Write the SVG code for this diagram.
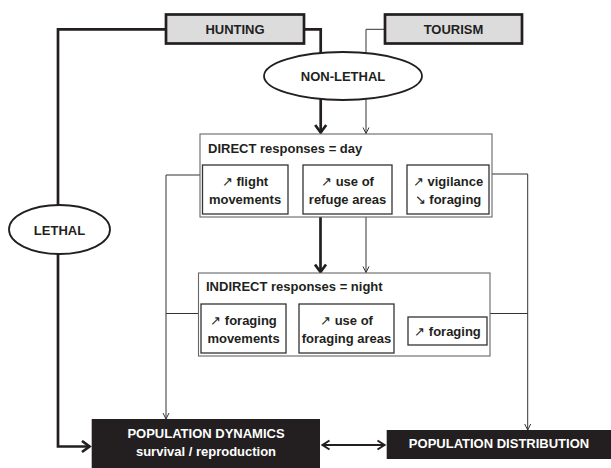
<svg xmlns="http://www.w3.org/2000/svg" width="611" height="468" viewBox="0 0 611 468">
<style>
.t{font-family:"Liberation Sans",Arial,sans-serif;font-weight:bold;font-size:13px;fill:#231f20;text-anchor:middle}
.a{font-weight:normal}
.w{fill:#ffffff}
.src{fill:#dcdcdd;stroke:#231f20;stroke-width:2.7}
.ell{fill:#ffffff;stroke:#231f20;stroke-width:1.8}
.grp{fill:#ffffff;stroke:#666666;stroke-width:1.1}
.sub{fill:#ffffff;stroke:#333333;stroke-width:1.3}
.out{fill:#231f20;stroke:none}
.thick{fill:none;stroke:#231f20;stroke-width:2.7}
.thin{fill:none;stroke:#333333;stroke-width:1}
.mid{fill:none;stroke:#231f20;stroke-width:2}
</style>
<defs>
<marker id="ahk" markerUnits="userSpaceOnUse" markerWidth="14" markerHeight="14" viewBox="0 0 14 14" refX="12" refY="7" orient="auto">
<path d="M4,1.5 L11.5,7 L4,12.5" fill="none" stroke="#231f20" stroke-width="2.7"/>
</marker>
<marker id="ahn" markerUnits="userSpaceOnUse" markerWidth="8" markerHeight="8" viewBox="0 0 8 8" refX="7.5" refY="4" orient="auto">
<path d="M1.5,1 L7.5,4 L1.5,7" fill="none" stroke="#333333" stroke-width="1"/>
</marker>
<marker id="ahm" markerUnits="userSpaceOnUse" markerWidth="12" markerHeight="12" viewBox="0 0 12 12" refX="10.5" refY="6" orient="auto-start-reverse">
<path d="M3,1.5 L10,6 L3,10.5" fill="none" stroke="#231f20" stroke-width="2"/>
</marker>
</defs>

<g id="connectors">
<path class="thick" d="M166,29.3 H58 V446.5 H90" marker-end="url(#ahk)"/>
<path class="thick" d="M304,29.3 H320.7 V53"/>
<path class="thin" d="M385,29.3 H366 V53"/>
<path class="thick" d="M320.7,99 V133" marker-end="url(#ahk)"/>
<path class="thin" d="M366,99 V133.5" marker-end="url(#ahn)"/>
<path class="thick" d="M320.5,217 V272.5" marker-end="url(#ahk)"/>
<path class="thin" d="M366,217 V272.5" marker-end="url(#ahn)"/>
<path class="thin" d="M200,175 H166 V419" marker-end="url(#ahn)"/>
<path class="thin" d="M198.5,313.5 H166"/>
<path class="thin" d="M492,174 H527.7 V430" marker-end="url(#ahn)"/>
<path class="thin" d="M490,313.5 H527.7"/>
<path class="mid" d="M322,445 H385" marker-start="url(#ahm)" marker-end="url(#ahm)"/>
</g>

<g id="hunting">
<rect class="src" x="166" y="14.5" width="138" height="29"/>
<text class="t" x="235" y="33.5">HUNTING</text>
</g>
<g id="tourism">
<rect class="src" x="385" y="14.5" width="137" height="29"/>
<text class="t" x="453.5" y="33.5">TOURISM</text>
</g>
<g id="non-lethal">
<ellipse class="ell" cx="343" cy="76" rx="79" ry="24"/>
<text class="t" x="343" y="81">NON-LETHAL</text>
</g>
<g id="lethal">
<ellipse class="ell" cx="59.5" cy="229.5" rx="50.5" ry="24.5"/>
<text class="t" x="59.5" y="234.5">LETHAL</text>
</g>

<g id="direct">
<rect class="grp" x="200" y="134" width="292" height="83"/>
<text class="t" x="208" y="152.5" style="text-anchor:start">DIRECT responses = day</text>
</g>
<g id="flight">
<rect class="sub" x="202.5" y="165" width="85.5" height="49"/>
<text class="t" x="245" y="186"><tspan class="a">↗</tspan> flight</text>
<text class="t" x="245" y="203.5">movements</text>
</g>
<g id="refuge">
<rect class="sub" x="303" y="165" width="89" height="49"/>
<text class="t" x="347.5" y="186"><tspan class="a">↗</tspan> use of</text>
<text class="t" x="347.5" y="203.5">refuge areas</text>
</g>
<g id="vigilance">
<rect class="sub" x="407" y="165" width="82" height="49"/>
<text class="t" x="448" y="186"><tspan class="a">↗</tspan> vigilance</text>
<text class="t" x="448" y="203.5"><tspan class="a">↘</tspan> foraging</text>
</g>

<g id="indirect">
<rect class="grp" x="198.5" y="273" width="291.5" height="83"/>
<text class="t" x="206" y="290.5" style="text-anchor:start">INDIRECT responses = night</text>
</g>
<g id="foraging-movements">
<rect class="sub" x="201" y="304" width="85" height="49"/>
<text class="t" x="243.5" y="325"><tspan class="a">↗</tspan> foraging</text>
<text class="t" x="243.5" y="342.5">movements</text>
</g>
<g id="foraging-areas">
<rect class="sub" x="299" y="304" width="95" height="49"/>
<text class="t" x="346.5" y="325"><tspan class="a">↗</tspan> use of</text>
<text class="t" x="346.5" y="342.5">foraging areas</text>
</g>
<g id="foraging">
<rect class="sub" x="408" y="317" width="79" height="28"/>
<text class="t" x="447.5" y="336"><tspan class="a">↗</tspan> foraging</text>
</g>

<g id="population-dynamics">
<rect class="out" x="91.7" y="419" width="228.3" height="50"/>
<text class="t w" x="206" y="437.5">POPULATION DYNAMICS</text>
<text class="t w" x="206" y="455.5">survival / reproduction</text>
</g>
<g id="population-distribution">
<rect class="out" x="386.7" y="430" width="225" height="29"/>
<text class="t w" x="499" y="447.5">POPULATION DISTRIBUTION</text>
</g>
</svg>
